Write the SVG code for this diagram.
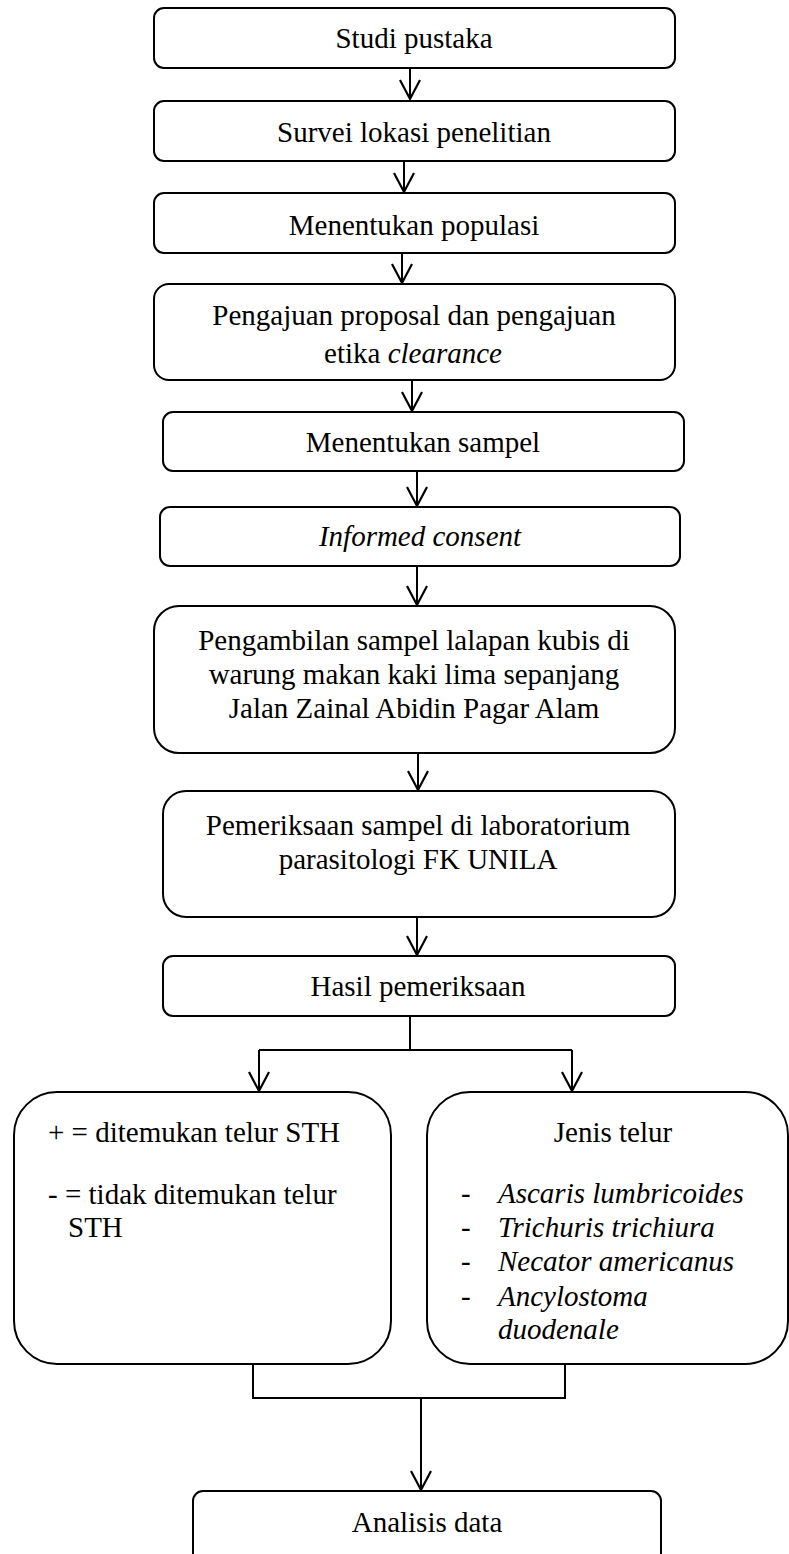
<svg xmlns="http://www.w3.org/2000/svg" width="789" height="1554" viewBox="0 0 789 1554">
<style>
.box{fill:#fff;stroke:#000;stroke-width:2}
.t{font-family:"Liberation Serif","Times New Roman",serif;font-size:29px;fill:#000}
.c{text-anchor:middle}
.i{font-style:italic}
.ln{fill:none;stroke:#000;stroke-width:2}
</style>
<defs>
<marker id="ah" markerUnits="userSpaceOnUse" orient="auto" refX="0" refY="0" markerWidth="24" markerHeight="24" viewBox="-22 -12 24 24" overflow="visible">
<path d="M-19,-10 L0,0 L-19,10" fill="none" stroke="#000" stroke-width="2.2"/>
</marker>
</defs>
<rect width="789" height="1554" fill="#fff"/>
<g id="connectors">
<path class="ln" d="M410,68 V99" marker-end="url(#ah)"/>
<path class="ln" d="M404,161 V192" marker-end="url(#ah)"/>
<path class="ln" d="M402,253 V283" marker-end="url(#ah)"/>
<path class="ln" d="M412,380 V411" marker-end="url(#ah)"/>
<path class="ln" d="M417,471 V506" marker-end="url(#ah)"/>
<path class="ln" d="M417,566 V605" marker-end="url(#ah)"/>
<path class="ln" d="M418,753 V790" marker-end="url(#ah)"/>
<path class="ln" d="M417,917 V955" marker-end="url(#ah)"/>
<path class="ln" d="M410,1016 V1050 M259,1050 H572"/>
<path class="ln" d="M259,1050 V1091" marker-end="url(#ah)"/>
<path class="ln" d="M572,1050 V1091" marker-end="url(#ah)"/>
<path class="ln" d="M253,1364 V1398 H565 V1364"/>
<path class="ln" d="M421,1398 V1490" marker-end="url(#ah)"/>
</g>
<g id="n1"><rect class="box" x="154" y="8" width="521" height="60" rx="10"/><text class="t c" x="414" y="48">Studi pustaka</text></g>
<g id="n2"><rect class="box" x="154" y="101" width="521" height="60" rx="10"/><text class="t c" x="414" y="142">Survei lokasi penelitian</text></g>
<g id="n3"><rect class="box" x="154" y="193" width="521" height="60" rx="10"/><text class="t c" x="414" y="235">Menentukan populasi</text></g>
<g id="n4"><rect class="box" x="154" y="284" width="521" height="96" rx="15"/><text class="t c" x="414" y="325">Pengajuan proposal dan pengajuan</text><text class="t c" x="413" y="363">etika <tspan class="i">clearance</tspan></text></g>
<g id="n5"><rect class="box" x="163" y="412" width="521" height="59" rx="10"/><text class="t c" x="423" y="452">Menentukan sampel</text></g>
<g id="n6"><rect class="box" x="160" y="507" width="520" height="59" rx="10"/><text class="t c i" x="420" y="546">Informed consent</text></g>
<g id="n7"><rect class="box" x="154" y="606" width="521" height="147" rx="25"/><text class="t c" x="414" y="650">Pengambilan sampel lalapan kubis di</text><text class="t c" x="414" y="684">warung makan kaki lima sepanjang</text><text class="t c" x="414" y="718">Jalan Zainal Abidin Pagar Alam</text></g>
<g id="n8"><rect class="box" x="163" y="791" width="512" height="126" rx="23"/><text class="t c" x="418" y="835">Pemeriksaan sampel di laboratorium</text><text class="t c" x="418" y="869">parasitologi FK UNILA</text></g>
<g id="n9"><rect class="box" x="163" y="956" width="512" height="60" rx="10"/><text class="t c" x="418" y="996">Hasil pemeriksaan</text></g>
<g id="n10"><rect class="box" x="14" y="1092" width="377" height="272" rx="43"/><text class="t" x="48" y="1142">+ = ditemukan telur STH</text><text class="t" x="48" y="1204">- = tidak ditemukan telur</text><text class="t" x="68" y="1237">STH</text></g>
<g id="n11"><rect class="box" x="427" y="1092" width="361" height="272" rx="43"/><text class="t c" x="613" y="1142">Jenis telur</text>
<text class="t" x="461" y="1203">-</text><text class="t i" x="498" y="1203">Ascaris lumbricoides</text>
<text class="t" x="461" y="1237">-</text><text class="t i" x="498" y="1237">Trichuris trichiura</text>
<text class="t" x="461" y="1271">-</text><text class="t i" x="498" y="1271">Necator americanus</text>
<text class="t" x="461" y="1306">-</text><text class="t i" x="498" y="1306">Ancylostoma</text>
<text class="t i" x="498" y="1339">duodenale</text></g>
<g id="n12"><rect class="box" x="193" y="1491" width="468" height="80" rx="10"/><text class="t c" x="427" y="1532">Analisis data</text></g>
</svg>
